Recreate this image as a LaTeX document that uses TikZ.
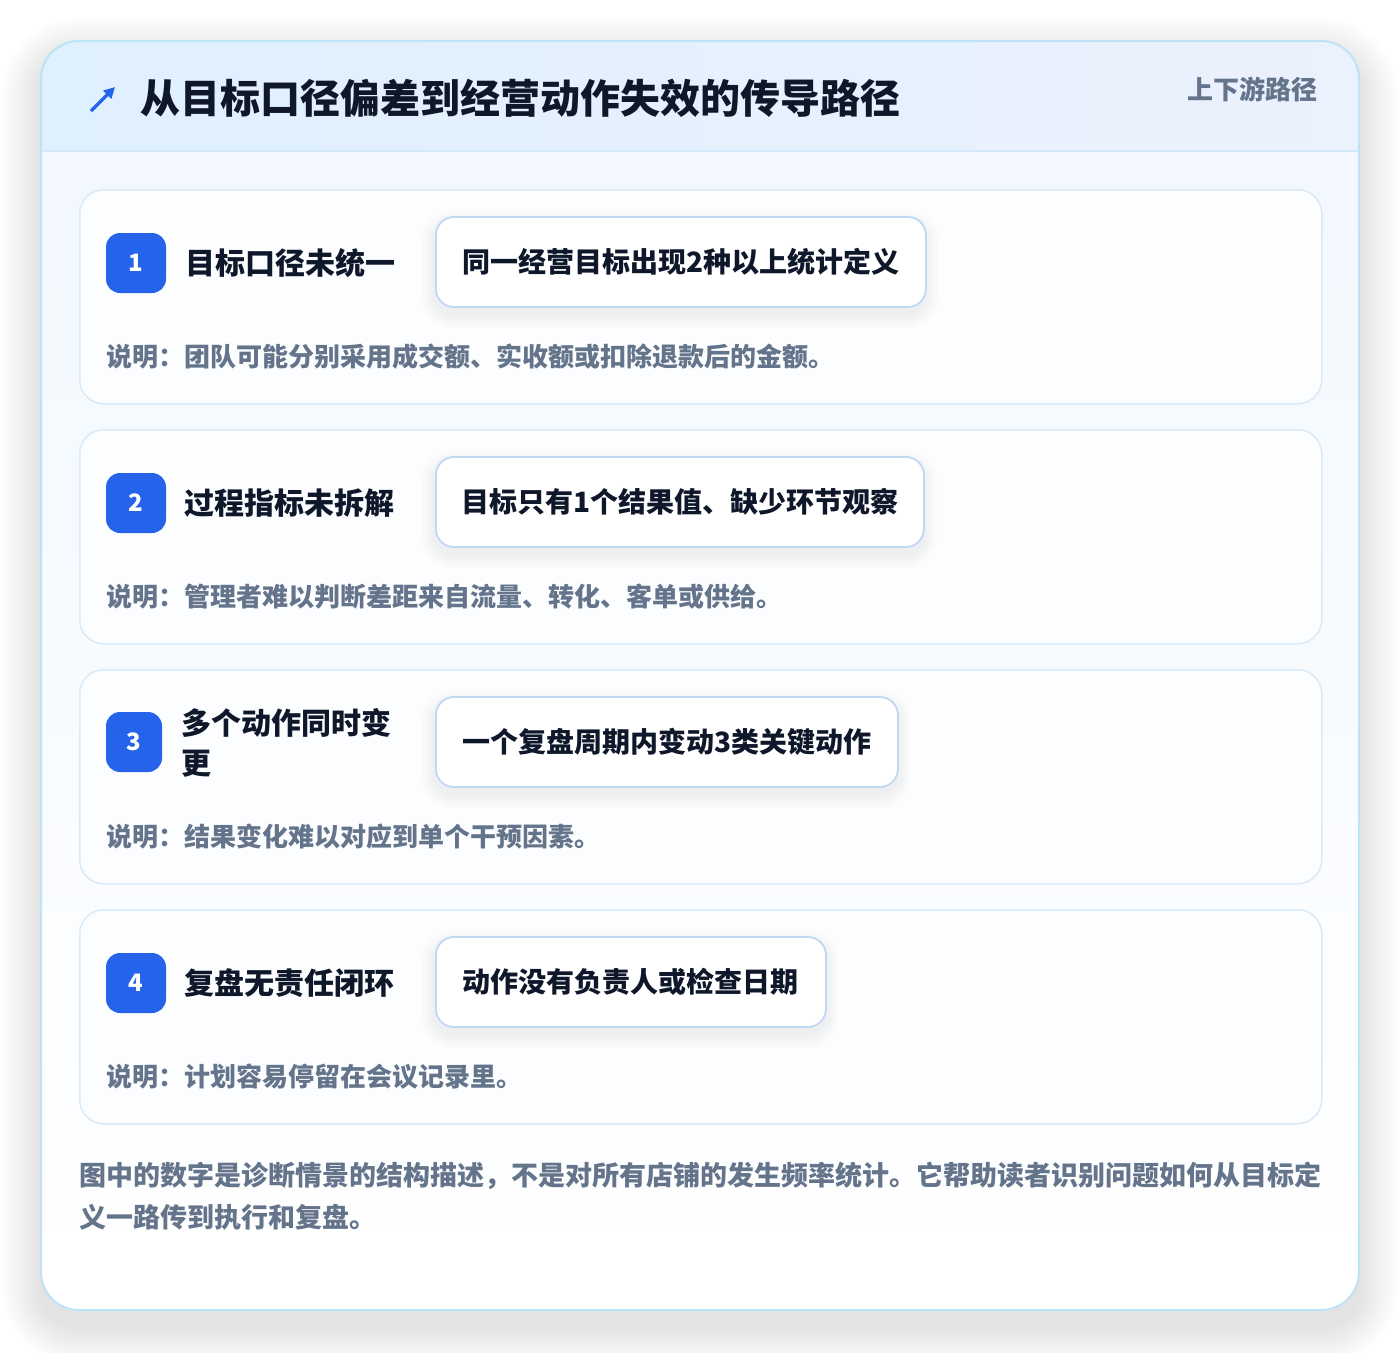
\documentclass[tikz,border=0pt]{standalone}
\usepackage{fontspec}
\setmainfont{Noto Sans CJK SC}
\usetikzlibrary{arrows.meta}
\definecolor{ink}{HTML}{0F172A}
\definecolor{muted}{HTML}{64748B}
\definecolor{brand}{HTML}{2563EB}
\definecolor{outerline}{HTML}{BDE3F6}
\definecolor{hdrL}{HTML}{DFF0FE}
\definecolor{hdrR}{HTML}{EBF1FD}
\definecolor{hdrline}{HTML}{D3E8F8}
\definecolor{bodytop}{HTML}{F2F8FE}
\definecolor{cardline}{HTML}{D9EAF8}
\definecolor{cardfill}{HTML}{FCFDFF}
\definecolor{pillline}{HTML}{C0D8F4}
\tikzset{
  stepcard/.style={draw=cardline, line width=1.5pt, fill=cardfill, rounded corners=24pt,
    minimum width=1242pt, minimum height=214pt, anchor=north west, inner sep=0pt},
  badge/.style={fill=brand, rounded corners=14pt, minimum height=60pt, minimum width=60pt,
    inner sep=0pt, text=white, font=\bfseries\fontsize{24}{28}\selectfont},
  steplabel/.style={anchor=west, inner sep=0pt, text=ink, font=\bfseries\fontsize{30}{40}\selectfont},
  pill/.style={draw=pillline, line width=1.8pt, fill=white, rounded corners=18pt,
    minimum height=90pt, anchor=west, inner sep=0pt, text=ink,
    font=\bfseries\fontsize{28}{34}\selectfont},
  desc/.style={anchor=west, inner sep=0pt, text=muted, font=\bfseries\fontsize{26}{30}\selectfont},
  softshade/.style={fill=black, opacity=#1},
}
% name, left x, centre y, width, text
\newcommand\pillbox[5]{%
  \foreach \i in {1,...,7}{%
    \fill[softshade=0.007, rounded corners={(18+\i*2)*1pt}]
      ({#2-\i*2},{#3-45-\i*2+7}) rectangle ({#2+#4+\i*2},{#3+45+\i*2+7});}
  \node[pill, minimum width=#4pt] (#1) at (#2,#3) {#5};}
\begin{document}
\begin{tikzpicture}[x=1pt,y=-1pt]
\useasboundingbox (0,0) rectangle (1400,1352);
\fill[white] (0,0) rectangle (1400,1352);
% outer card shadow
\foreach \i in {1,...,14}{%
  \fill[softshade=0.0065, rounded corners={(38+\i*2.8)*1pt}]
    ({41-\i*2.8},{41-\i*2.8+16}) rectangle ({1359+\i*2.8},{1310+\i*2.8+16});}
% outer card
\fill[white, rounded corners=38pt] (41,41) rectangle (1359,1310);
\begin{scope}
  \clip[rounded corners=38pt] (41,41) rectangle (1359,1310);
  \shade[top color=bodytop, bottom color=white] (41,151) rectangle (1359,1310);
  \shade[left color=hdrL, right color=hdrR] (41,41) rectangle (1359,151);
  \draw[hdrline, line width=1.5pt] (41,151) -- (1359,151);
\end{scope}
\draw[outerline, line width=2pt, rounded corners=38pt] (41,41) rectangle (1359,1310);
% header
\coordinate (iconA) at (91,111);
\coordinate (iconB) at (115,87);
\draw[brand, line width=3.2pt, -{Triangle[length=11pt,width=11pt]}] (iconA) -- (iconB);
\node[anchor=west, inner sep=0pt, text=ink, font=\bfseries\fontsize{40}{46}\selectfont] (title) at (140,98) {从目标口径偏差到经营动作失效的传导路径};
\node[anchor=east, inner sep=0pt, text=muted, font=\bfseries\fontsize{26}{30}\selectfont] (tag) at (1318,89) {上下游路径};
% step 1
\node[stepcard] (card1) at (79,189) {};
\node[badge] (b1) at (136,263) {1};
\node[steplabel] (l1) at (185,263) {目标口径未统一};
\pillbox{p1}{435}{262}{490}{同一经营目标出现2种以上统计定义}
\node[desc] (d1) at (106,357) {说明：团队可能分别采用成交额、实收额或扣除退款后的金额。};
% step 2
\node[stepcard] (card2) at (79,429) {};
\node[badge] (b2) at (136,503) {2};
\node[steplabel] (l2) at (184,503) {过程指标未拆解};
\pillbox{p2}{435}{502}{488}{目标只有1个结果值、缺少环节观察}
\node[desc] (d2) at (106,597) {说明：管理者难以判断差距来自流量、转化、客单或供给。};
% step 3
\node[stepcard] (card3) at (79,669) {};
\node[badge, minimum width=56pt] (b3) at (134,742) {3};
\node[steplabel, align=left] (l3) at (181,743) {多个动作同时变\\更};
\pillbox{p3}{435}{742}{462}{一个复盘周期内变动3类关键动作}
\node[desc] (d3) at (106,837) {说明：结果变化难以对应到单个干预因素。};
% step 4
\node[stepcard] (card4) at (79,909) {};
\node[badge] (b4) at (136,983) {4};
\node[steplabel] (l4) at (184,983) {复盘无责任闭环};
\pillbox{p4}{435}{982}{390}{动作没有负责人或检查日期}
\node[desc] (d4) at (106,1077) {说明：计划容易停留在会议记录里。};
% footer note
\node[anchor=north west, inner sep=0pt, text=muted, align=left,
  font=\bfseries\fontsize{27}{42}\selectfont] (note) at (79,1162)
  {图中的数字是诊断情景的结构描述，不是对所有店铺的发生频率统计。它帮助读者识别问题如何从目标定\\义一路传到执行和复盘。};
\end{tikzpicture}
\end{document}
